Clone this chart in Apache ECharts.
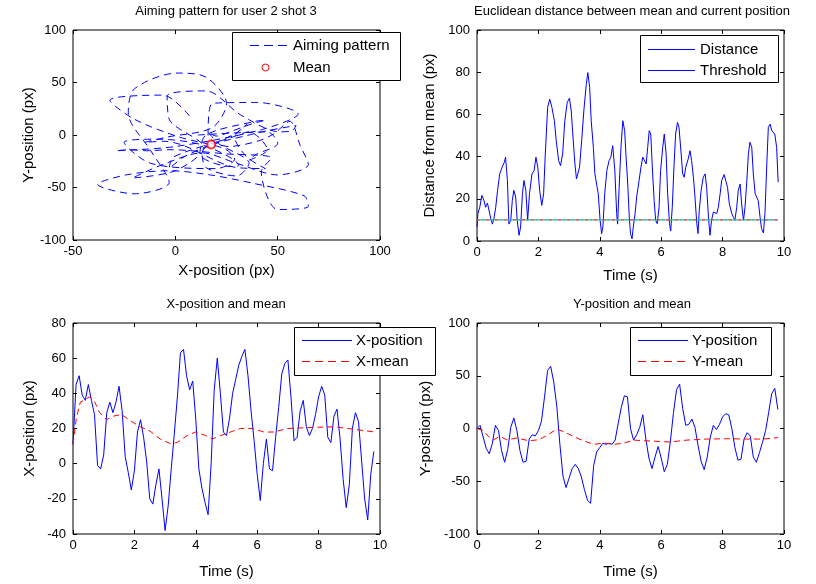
<!DOCTYPE html>
<html>
<head>
<meta charset="utf-8">
<script src="https://cdn.jsdelivr.net/npm/echarts@6/dist/echarts.min.js"></script>
<style>
  html, body { margin: 0; padding: 0; background: #ffffff; }
  #chart { width: 816px; height: 584px; }
</style>
</head>
<body>
<div id="chart"></div>
<script>
// ---- Recorded aiming data for user 2, shot 3 ----

// Sample times (s) shared by the X and Y position traces
const sampleTime = [
  0.0, 0.1, 0.2, 0.3, 0.4, 0.5, 0.6, 0.7, 0.8, 0.9,
  1.0, 1.1, 1.2, 1.3, 1.4, 1.5, 1.6, 1.7, 1.8, 1.9,
  2.0, 2.1, 2.2, 2.3, 2.4, 2.5, 2.6, 2.7, 2.8, 2.9,
  3.0, 3.1, 3.2, 3.3, 3.4, 3.5, 3.6, 3.7, 3.8, 3.9,
  4.0, 4.1, 4.2, 4.3, 4.4, 4.5, 4.6, 4.7, 4.8, 4.9,
  5.0, 5.1, 5.2, 5.3, 5.4, 5.5, 5.6, 5.7, 5.8, 5.9,
  6.0, 6.1, 6.2, 6.3, 6.4, 6.5, 6.6, 6.7, 6.8, 6.9,
  7.0, 7.1, 7.2, 7.3, 7.4, 7.5, 7.6, 7.7, 7.8, 7.9,
  8.0, 8.1, 8.2, 8.3, 8.4, 8.5, 8.6, 8.7, 8.8, 8.9,
  9.0, 9.1, 9.2, 9.3, 9.4, 9.5, 9.6, 9.7, 9.8
];

// Horizontal aim position (px)
const xPos = [
  11, 45, 50, 39, 36, 45, 36, 28, -1, -3,
  5, 29, 35, 29, 35, 44, 30, 4, -5, -15,
  -4, 18, 25, 15, 1, -20, -23, -12, -3, -20,
  -38, -24, -3, 17, 38, 63, 65, 50, 42, 47,
  25, -3, -14, -22, -29, 0, 42, 60, 40, 18,
  16, 26, 40, 48, 56, 61, 65, 50, 30, 13,
  -6, -21, 0, 14, -3, -4, 15, 32, 51, 57,
  59, 38, 13, 15, 30, 36, 21, 16, 20, 28,
  38, 44, 39, 15, 12, 27, 31, 14, -9, -25,
  -12, 20, 29, 24, 2, -20, -32, -6, 7
];

// Vertical aim position (px)
const yPos = [
  0, 3, -8, -19, -24, -14, 3, -2, -21, -32,
  -20, 1, 10, -2, -21, -32, -31, -10, -6, -7,
  -2, 7, 30, 55, 59, 44, 21, -15, -45, -56,
  -47, -38, -34, -38, -46, -58, -68, -71, -35, -22,
  -18, -14, -15, -14, -15, -11, 5, 20, 31, 30,
  0, -11, -6, 1, 13, -10, -28, -38, -27, -17,
  -28, -41, -34, -12, 15, 37, 42, 19, 3, 4,
  9, 1, -16, -31, -39, -27, -8, 3, -1, 4,
  11, 14, 13, 0, -18, -30, -29, -10, -4, -7,
  -27, -32, -23, -13, -2, 15, 33, 38, 18
];

// Running mean of the X position
const xMeanTime = [0, 0.11, 0.24, 0.55, 0.71, 0.87, 1.09, 1.31, 1.58, 1.86, 2.19, 2.51, 2.84, 3.17, 3.39,
  3.72, 3.99, 4.32, 4.54, 4.81, 5.13, 5.45, 5.84, 6.22, 6.55, 6.98, 7.53, 7.97, 8.51, 8.95, 9.39, 9.83];
const xMean = [11, 26, 35, 38, 35, 29, 25, 27, 28, 24.5, 21, 18.5, 14, 11.4, 12,
  16, 18, 16, 14, 16, 18, 20, 20, 18, 18, 20, 20.4, 20.7, 21, 20, 19, 18];

// Running mean of the Y position
const yMeanTime = [0, 0.21, 0.37, 0.54, 0.75, 0.97, 1.30, 1.68, 2.01, 2.28, 2.59, 2.83, 3.16, 3.49, 3.81,
  4.14, 4.47, 4.80, 5.09, 5.74, 6.29, 6.83, 7.48, 8.13, 8.78, 9.33, 9.81];
const yMean = [0, -2, -7.5, -10.7, -7.5, -10.7, -9, -11.6, -10.7, -6.6, -0.6, -3, -7.8, -11.9, -15,
  -13.8, -15, -13.8, -11, -12, -12.8, -11, -10, -9.7, -10, -10, -8.7];

// Final mean of the aiming pattern (px)
const meanPoint = [17.5, -9];

// Euclidean distance between the running mean and the current position
const distTime = [
  0, 0.03, 0.09, 0.16, 0.23, 0.28, 0.34, 0.39, 0.45, 0.5, 0.55, 0.61, 0.67, 0.74, 0.82, 0.89, 0.93, 0.99,
  1.04, 1.1, 1.15, 1.2, 1.26, 1.31, 1.37, 1.42, 1.48, 1.53, 1.59, 1.65, 1.71, 1.79, 1.86, 1.92, 1.98,
  2.04, 2.11, 2.17, 2.22, 2.3, 2.37, 2.44, 2.52, 2.58, 2.66, 2.72, 2.79, 2.86, 2.94,
  3.01, 3.07, 3.12, 3.19, 3.24, 3.29, 3.34, 3.41, 3.48, 3.56, 3.61, 3.67, 3.72, 3.79, 3.84, 3.9, 3.95,
  4.01, 4.06, 4.1, 4.16, 4.23, 4.3, 4.36, 4.42, 4.49, 4.55, 4.58, 4.63, 4.69, 4.75, 4.81, 4.85, 4.91, 4.96,
  5.0, 5.05, 5.09, 5.15, 5.2, 5.28, 5.34, 5.4, 5.45, 5.51, 5.56, 5.61, 5.66, 5.71, 5.77, 5.82, 5.87, 5.93, 5.98,
  6.05, 6.1, 6.16, 6.21, 6.27, 6.31, 6.36, 6.42, 6.47, 6.53, 6.58, 6.65, 6.7, 6.75, 6.8, 6.88, 6.94, 6.99,
  7.05, 7.1, 7.16, 7.2, 7.24, 7.3, 7.37, 7.43, 7.48, 7.54, 7.59, 7.64, 7.7, 7.75, 7.81, 7.86, 7.92, 7.97,
  8.05, 8.11, 8.16, 8.22, 8.3, 8.35, 8.4, 8.46, 8.51, 8.57, 8.62, 8.68, 8.73, 8.79, 8.84, 8.89, 8.95,
  9.0, 9.06, 9.11, 9.16, 9.22, 9.27, 9.33, 9.38, 9.44, 9.49, 9.55, 9.6, 9.65, 9.7, 9.76, 9.81
];
const distValue = [
  6.6, 13, 16, 21.6, 19, 16, 18, 17.6, 10.5, 8, 10.5, 16, 24, 31.8, 35, 37.3, 39.7, 28.7,
  8, 9.8, 19.2, 24, 20.8, 9.8, 2.7, 6.6, 22.4, 28.7, 24, 9.8, 22.4, 31.8, 33.4, 39.7, 35,
  24, 16.9, 22.4, 39.7, 63.3, 67.2, 63.3, 57, 47.6, 38, 35.7, 41.3, 57, 65.7,
  67.7, 61.7, 50.7, 36.5, 29.4, 28.7, 35, 47.6, 61.7, 74.3, 79.8, 72.8, 57, 44.4, 31.8, 31.8, 22.4,
  9.8, 3.5, 6.6, 22.4, 33.4, 38, 39.7, 45.2, 33.4, 13, 8, 25.5, 44.4, 57, 52.3, 41.3, 27, 11.3,
  3.5, 1, 6.6, 13, 20.8, 28.7, 35, 39.7, 38.9, 36.5, 44.4, 52.3, 50.7, 35, 19.2, 9.8, 8.2, 16, 33.4,
  44.4, 50.7, 41.3, 22.4, 8.2, 4.7, 16, 36.5, 50.7, 56.2, 53.9, 41.3, 31.8, 30.2, 35, 38.9, 42.8, 38.1,
  30.2, 20.8, 8.2, 3.5, 14.5, 24, 30.2, 31.8, 25.5, 11.3, 2.7, 9.8, 13.7, 14.5, 13, 16, 22.4, 28.7,
  31.5, 31, 25.5, 17.6, 13, 11.3, 9.8, 16, 24, 27, 17.6, 9.8, 16, 28.7, 41.3, 46.8, 44.4,
  31.8, 22.4, 23.1, 19.2, 11.3, 5.8, 3.8, 13, 36.5, 53.9, 55.4, 52.3, 53, 50.7, 44.4, 27.9
];

// Distance threshold (px)
const thresholdLevel = 10;

// ---- Chart ----
const FONT = '"Liberation Sans", Arial, Helvetica, sans-serif';
const BLUE = '#0000ff';
const RED = '#ff0000';

const pairs = (xs, ys) => xs.map((x, i) => [x, ys[i]]);

const panels = [
  { grid: { left: 73, top: 30, width: 307, height: 210 },
    x: { min: -50, max: 100, interval: 50, name: 'X-position (px)', gap: 23 },
    y: { min: -100, max: 100, interval: 50, name: 'Y-position (px)', gap: 36 } },
  { grid: { left: 477, top: 30, width: 307, height: 211 },
    x: { min: 0, max: 10, interval: 2, name: 'Time (s)', gap: 27 },
    y: { min: 0, max: 100, interval: 20, name: 'Distance from mean (px)', gap: 40 } },
  { grid: { left: 73, top: 323, width: 307, height: 211 },
    x: { min: 0, max: 10, interval: 2, name: 'Time (s)', gap: 30 },
    y: { min: -40, max: 80, interval: 20, name: 'X-position (px)', gap: 36 } },
  { grid: { left: 477, top: 323, width: 307, height: 211 },
    x: { min: 0, max: 10, interval: 2, name: 'Time (s)', gap: 30 },
    y: { min: -100, max: 100, interval: 50, name: 'Y-position (px)', gap: 44 } }
];

const tick = { show: true, inside: true, length: 4, lineStyle: { color: '#000', width: 1 } };
const noLine = { show: false, onZero: false };
const labelStyle = { color: '#000', fontFamily: FONT, fontSize: 13 };
const nameStyle = { color: '#000', fontFamily: FONT, fontSize: 15 };

const grids = [], xAxes = [], yAxes = [];
panels.forEach((p, i) => {
  grids.push(Object.assign({ show: true, borderColor: '#000', borderWidth: 1, backgroundColor: 'transparent' }, p.grid));
  xAxes.push({
    type: 'value', gridIndex: i, position: 'bottom', min: p.x.min, max: p.x.max, interval: p.x.interval,
    name: p.x.name, nameLocation: 'middle', nameGap: p.x.gap, nameTextStyle: nameStyle,
    axisLine: noLine, axisTick: tick, splitLine: { show: false },
    axisLabel: Object.assign({ margin: 5 }, labelStyle)
  });
  xAxes.push({
    type: 'value', gridIndex: i, position: 'top', min: p.x.min, max: p.x.max, interval: p.x.interval,
    axisLine: noLine, axisTick: tick, splitLine: { show: false }, axisLabel: { show: false }
  });
  yAxes.push({
    type: 'value', gridIndex: i, position: 'left', min: p.y.min, max: p.y.max, interval: p.y.interval,
    name: p.y.name, nameLocation: 'middle', nameGap: p.y.gap, nameTextStyle: nameStyle,
    axisLine: noLine, axisTick: tick, splitLine: { show: false },
    axisLabel: Object.assign({ margin: 7 }, labelStyle)
  });
  yAxes.push({
    type: 'value', gridIndex: i, position: 'right', min: p.y.min, max: p.y.max, interval: p.y.interval,
    axisLine: noLine, axisTick: tick, splitLine: { show: false }, axisLabel: { show: false }
  });
});

const lineSeries = (name, panel, data, color, type, z) => ({
  name, type: 'line', xAxisIndex: panel * 2, yAxisIndex: panel * 2, data,
  symbol: 'none', showSymbol: false, smooth: false, z: z || 2,
  lineStyle: { color, width: 1, type: type || 'solid' }, itemStyle: { color }
});

const thresholdData = [[0, thresholdLevel], [distTime[distTime.length - 1], thresholdLevel]];

const series = [
  Object.assign(lineSeries('Aiming pattern', 0, pairs(xPos, yPos), BLUE, [7, 5]), { smooth: 0.3 }),
  { name: 'Mean', type: 'scatter', xAxisIndex: 0, yAxisIndex: 0, data: [meanPoint],
    symbol: 'emptyCircle', symbolSize: 8, z: 3,
    itemStyle: { color: RED, borderColor: RED, borderWidth: 1 } },
  lineSeries('Distance', 1, pairs(distTime, distValue), BLUE),
  lineSeries('Threshold', 1, thresholdData, '#1faa3a', 'solid', 3),
  lineSeries('Threshold marks A', 1, thresholdData, '#ff3060', [3, 6], 4),
  Object.assign(lineSeries('Threshold marks B', 1, thresholdData, '#30b8ff', [3, 6], 4),
    { lineStyle: { color: '#30b8ff', width: 1, type: [3, 6], dashOffset: 4.5 } }),
  lineSeries('X-position', 2, pairs(sampleTime, xPos), BLUE),
  lineSeries('X-mean', 2, pairs(xMeanTime, xMean), RED, [6, 4], 3),
  lineSeries('Y-position', 3, pairs(sampleTime, yPos), BLUE),
  lineSeries('Y-mean', 3, pairs(yMeanTime, yMean), RED, [6, 4], 3)
];

// ---- Legend boxes: bordered box, key strokes and labels ----
// row: { label, y, color, dash?, kind?: 'circle' }
function legendBox(box, keyX1, keyX2, textX, rows) {
  const els = [{
    type: 'rect', z: 100, silent: true,
    shape: { x: box[0] + 0.5, y: box[1] + 0.5, width: box[2] - box[0], height: box[3] - box[1] },
    style: { fill: '#fff', stroke: '#000', lineWidth: 1 }
  }];
  rows.forEach(r => {
    if (r.kind === 'circle') {
      els.push({
        type: 'circle', z: 101, silent: true,
        shape: { cx: r.cx, cy: r.y + 0.5, r: 3.5 },
        style: { fill: '#fff', stroke: r.color, lineWidth: 1 }
      });
    } else {
      els.push({
        type: 'line', z: 101, silent: true,
        shape: { x1: keyX1, y1: r.y + 0.5, x2: keyX2, y2: r.y + 0.5 },
        style: { stroke: r.color, lineWidth: 1, lineDash: r.dash || null }
      });
    }
    els.push({
      type: 'text', z: 101, silent: true, x: textX, y: r.y + 1,
      style: { text: r.label, align: 'left', verticalAlign: 'middle', fill: '#000', font: '15px ' + FONT }
    });
  });
  return els;
}

const legendGraphics = [].concat(
  legendBox([232, 32, 400, 80], 250, 288, 293, [
    { label: 'Aiming pattern', y: 45, color: BLUE, dash: [9, 5] },
    { label: 'Mean', y: 67, color: RED, kind: 'circle', cx: 265.5 }
  ]),
  legendBox([640, 35, 778, 82], 648, 695, 700, [
    { label: 'Distance', y: 49, color: BLUE },
    { label: 'Threshold', y: 70, color: BLUE }
  ]),
  legendBox([294, 327, 435, 375], 302, 352, 356, [
    { label: 'X-position', y: 340, color: BLUE },
    { label: 'X-mean', y: 361, color: RED, dash: [8, 5] }
  ]),
  legendBox([630, 327, 771, 375], 638, 688, 692, [
    { label: 'Y-position', y: 340, color: BLUE },
    { label: 'Y-mean', y: 361, color: RED, dash: [8, 5] }
  ])
);

const titleText = (text, x, y) => ({
  type: 'text', x, y, silent: true,
  style: { text, align: 'center', verticalAlign: 'top', fill: '#000', font: '13px ' + FONT }
});

const chart = echarts.init(document.getElementById('chart'), null, { renderer: 'canvas' });
chart.setOption({
  animation: false,
  backgroundColor: '#ffffff',
  grid: grids,
  xAxis: xAxes,
  yAxis: yAxes,
  series,
  graphic: [
    titleText('Aiming pattern for user 2 shot 3', 226, 5),
    titleText('Euclidean distance between mean and current position', 632, 5),
    titleText('X-position and mean', 226, 298),
    titleText('Y-position and mean', 632, 298)
  ].concat(legendGraphics)
});
</script>
</body>
</html>
